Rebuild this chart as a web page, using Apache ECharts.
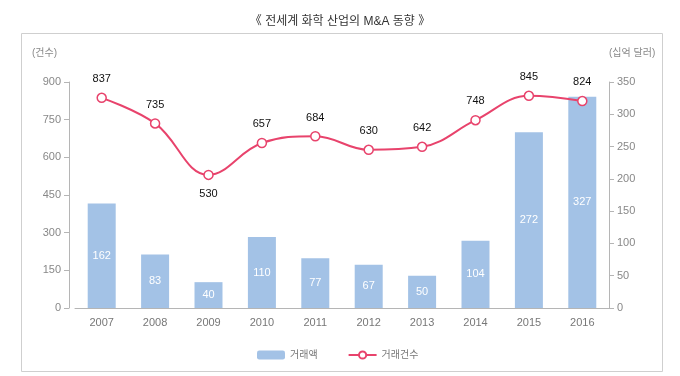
<!DOCTYPE html>
<html>
<head>
    <meta charset="utf-8">
    <title>전세계 화학 산업의 M&A 동향</title>
    <script src="https://cdn.jsdelivr.net/npm/echarts@6/dist/echarts.min.js"></script>
    <style>
        html, body { margin: 0; padding: 0; background: #fff; }
        #main { width: 680px; height: 376px; }
    </style>
</head>
<body>
<div id="main"></div>
<script type="text/javascript">
    // 데이터
    var years = ['2007', '2008', '2009', '2010', '2011', '2012', '2013', '2014', '2015', '2016'];
    var dealValue = [162, 83, 40, 110, 77, 67, 50, 104, 272, 327];   // 거래액 (십억 달러)
    var dealCount = [837, 735, 530, 657, 684, 630, 642, 748, 845, 824]; // 거래건수
    var belowLabel = ['2009']; // 라벨을 점 아래에 두는 연도

    var font = '"Liberation Sans", "Noto Sans CJK KR", sans-serif';

    var countData = [];
    for (var i = 0; i < years.length; i++) {
        var item = { value: dealCount[i] };
        if (belowLabel.indexOf(years[i]) >= 0) {
            item.label = { position: 'bottom' };
        }
        countData.push(item);
    }

    var myChart = echarts.init(document.getElementById('main'));

    myChart.setOption({
        animation: false,
        textStyle: { fontFamily: font },
        title: {
            text: '《 전세계 화학 산업의 M&A 동향 》',
            left: 'center',
            top: 11,
            textStyle: { fontSize: 12, fontWeight: 'normal', color: '#333', fontFamily: font }
        },
        graphic: [{
            type: 'rect',
            shape: { x: 21.5, y: 33.5, width: 641, height: 338 },
            style: { fill: 'none', stroke: '#cfcfcf', lineWidth: 1 },
            silent: true
        }],
        legend: {
            left: 252,
            top: 345,
            itemWidth: 28,
            itemHeight: 9,
            itemGap: 30,
            textStyle: { fontSize: 10, color: '#777', fontFamily: font },
            data: ['거래액', '거래건수']
        },
        grid: {
            left: 75,
            right: 71,
            top: 82,
            bottom: 68
        },
        xAxis: {
            type: 'category',
            data: years,
            axisTick: { show: false },
            axisLine: { lineStyle: { color: '#b5b5b5' } },
            axisLabel: { fontSize: 11, color: '#777', margin: 9 }
        },
        yAxis: [{
            type: 'value',
            name: '(건수)',
            nameLocation: 'end',
            nameGap: 24,
            nameTextStyle: { fontSize: 10, color: '#888', align: 'right', padding: [0, 12, 0, 0] },
            min: 0,
            max: 900,
            interval: 150,
            offset: 6,
            splitLine: { show: false },
            axisLine: { show: true, lineStyle: { color: '#b5b5b5' } },
            axisTick: { show: true, length: 5 },
            axisLabel: { fontSize: 11, color: '#888', margin: 8 }
        }, {
            type: 'value',
            name: '(십억 달러)',
            nameLocation: 'end',
            nameGap: 24,
            nameTextStyle: { fontSize: 10, color: '#888', align: 'left', padding: [0, 0, 0, 0] },
            min: 0,
            max: 350,
            interval: 50,
            splitLine: { show: false },
            axisLine: { show: true, lineStyle: { color: '#b5b5b5' } },
            axisTick: { show: true, length: 5 },
            axisLabel: { fontSize: 11, color: '#888', margin: 8 }
        }],
        series: [{
            name: '거래액',
            type: 'bar',
            yAxisIndex: 1,
            barWidth: 28,
            data: dealValue,
            itemStyle: { color: '#a3c2e6' },
            label: {
                show: true,
                position: 'inside',
                color: '#fff',
                fontSize: 11
            }
        }, {
            name: '거래건수',
            type: 'line',
            yAxisIndex: 0,
            smooth: 0.4,
            data: countData,
            symbol: 'circle',
            symbolSize: 9,
            lineStyle: { color: '#e8436c', width: 2 },
            itemStyle: { color: '#fff', borderColor: '#e8436c', borderWidth: 1.5 },
            label: {
                show: true,
                position: 'top',
                distance: 8,
                color: '#111',
                fontSize: 11
            }
        }]
    });
</script>
</body>
</html>
